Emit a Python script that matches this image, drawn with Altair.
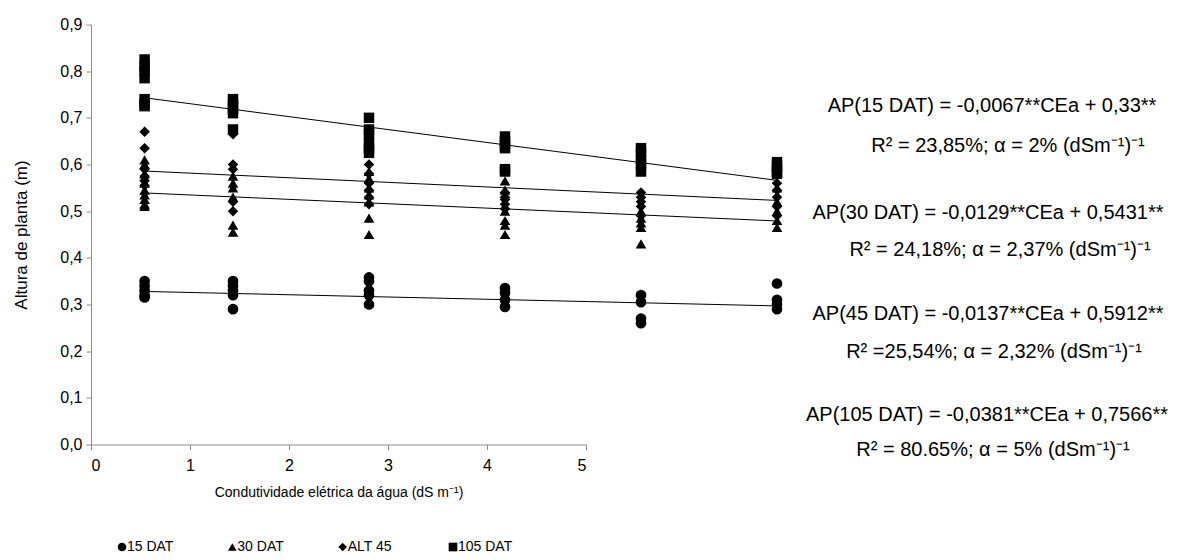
import altair as alt
import pandas as pd

# ---- data ----
series = ["15 DAT", "30 DAT", "ALT 45", "105 DAT"]
ce_levels = [0.35, 1, 2, 3, 4, 5]
ce_ticks = [0, 1, 2, 3, 4, 5]
y_ticks = [0.0, 0.1, 0.2, 0.3, 0.4, 0.5, 0.6, 0.7, 0.8, 0.9]

dat15 = [[0.35, 0.34, 0.33, 0.32, 0.315],
         [0.35, 0.34, 0.33, 0.32, 0.29],
         [0.358, 0.35, 0.33, 0.32, 0.30],
         [0.335, 0.325, 0.31, 0.295],
         [0.32, 0.305, 0.27, 0.26],
         [0.345, 0.31, 0.30, 0.29]]
dat30 = [[0.61, 0.60, 0.58, 0.56, 0.545, 0.535, 0.525, 0.515, 0.51],
         [0.575, 0.56, 0.55, 0.53, 0.47, 0.455],
         [0.585, 0.57, 0.55, 0.535, 0.52, 0.485, 0.45],
         [0.565, 0.545, 0.50, 0.48, 0.47, 0.45],
         [0.50, 0.485, 0.475, 0.465, 0.43],
         [0.55, 0.52, 0.50, 0.48, 0.465]]
alt45 = [[0.67, 0.635, 0.59, 0.575, 0.565, 0.555],
         [0.665, 0.60, 0.59, 0.52, 0.50],
         [0.60, 0.58, 0.56, 0.545, 0.53, 0.515],
         [0.54, 0.53, 0.525, 0.515, 0.505],
         [0.54, 0.53, 0.52, 0.51, 0.49],
         [0.56, 0.545, 0.53, 0.51, 0.49]]
dat105 = [[0.825, 0.81, 0.80, 0.785, 0.74, 0.73, 0.725],
          [0.74, 0.73, 0.72, 0.71, 0.675],
          [0.70, 0.675, 0.665, 0.645, 0.635, 0.625],
          [0.66, 0.65, 0.64, 0.635, 0.59, 0.585],
          [0.635, 0.625, 0.61, 0.60, 0.585],
          [0.605, 0.595, 0.585, 0.58]]

trend_ce = [0.35, 5]
trend15 = [0.328, 0.297]
trend30 = [0.539, 0.479]
trend45 = [0.586, 0.523]
trend105 = [0.743, 0.566]

equations = [
    "AP(15 DAT) = -0,0067**CEa + 0,33**",
    "R² = 23,85%; α = 2% (dSm⁻¹)⁻¹",
    "AP(30 DAT) = -0,0129**CEa + 0,5431**",
    "R² = 24,18%; α = 2,37% (dSm⁻¹)⁻¹",
    "AP(45 DAT) = -0,0137**CEa + 0,5912**",
    "R² =25,54%; α = 2,32% (dSm⁻¹)⁻¹",
    "AP(105 DAT) = -0,0381**CEa + 0,7566**",
    "R² = 80.65%; α = 5% (dSm⁻¹)⁻¹",
]

# ---- tables ----
rows = []
for name, groups in zip(series, [dat15, dat30, alt45, dat105]):
    for x, vals in zip(ce_levels, groups):
        for v in vals:
            rows.append({"ce": x, "ap": v, "serie": name})
points_df = pd.DataFrame(rows)

trows = []
for name, ys in zip(series, [trend15, trend30, trend45, trend105]):
    for x, y in zip(trend_ce, ys):
        trows.append({"ce": x, "ap": y, "serie": name})
trend_df = pd.DataFrame(trows)

ticks_df = pd.DataFrame({"ce": ce_ticks})
legend_df = pd.DataFrame({"serie": series})
one_df = pd.DataFrame({"k": [0]})

FONT = "Liberation Sans"
LEFT, TOP = 91, 24.5

shape_scale = alt.Scale(domain=series, range=["circle", "triangle-up", "diamond", "square"])
size_scale = alt.Scale(domain=series, range=[115, 110, 70, 110])

y_enc = alt.Y(
    "ap:Q",
    scale=alt.Scale(domain=[0, 0.9]),
    axis=alt.Axis(
        values=y_ticks,
        labelExpr="replace(format(datum.value, '.1f'), '.', ',')",
        title="Altura de planta (m)",
        titleFontSize=17,
        grid=False,
        tickSize=5,
        labelPadding=4,
        titlePadding=29,
    ),
)
x_data = alt.X("ce:Q", scale=alt.Scale(domain=[0, 5], range=[6, 686]), axis=None)

lines = alt.Chart(trend_df).mark_line(color="black", strokeWidth=1).encode(
    x=x_data, y=y_enc, detail="serie:N"
)

points = alt.Chart(points_df).mark_point(filled=True, opacity=1, color="black").encode(
    x=x_data,
    y=y_enc,
    shape=alt.Shape("serie:N", scale=shape_scale, legend=None),
    size=alt.Size("serie:N", scale=size_scale, legend=None),
)

axis_layer = alt.Chart(ticks_df).mark_point(opacity=0).encode(
    x=alt.X(
        "ce:Q",
        scale=alt.Scale(domain=[0, 5], range=[0, 495]),
        axis=alt.Axis(
            values=ce_ticks,
            format="d",
            title="Condutividade elétrica da água (dS m⁻¹)",
            titleFontSize=14,
            grid=False,
            tickSize=5,
            labelPadding=8,
            titlePadding=12,
        ),
    ),
    y=alt.value(0),
)

# manual legend at the bottom
leg_x = alt.X("serie:N", scale=alt.Scale(domain=series, range=[31, 362], padding=0), axis=None)
leg_y = alt.value(547 - TOP)
legend_sym = alt.Chart(legend_df).mark_point(filled=True, opacity=1, color="black", size=75).encode(
    x=leg_x, y=leg_y, shape=alt.Shape("serie:N", scale=shape_scale, legend=None)
)
legend_txt = alt.Chart(legend_df).mark_text(
    font=FONT, fontSize=14, align="left", baseline="middle", dx=5, color="black"
).encode(x=leg_x, y=leg_y, text="serie:N")

eq_cx = [992, 1008, 988, 1000, 988, 994, 987, 993]
eq_cy = [106, 146, 213, 250, 314, 352, 415, 450]
texts = []
for s, cx, cy in zip(equations, eq_cx, eq_cy):
    texts.append(
        alt.Chart(one_df).mark_text(
            text=s, font=FONT, fontSize=20, align="center", baseline="middle", color="black"
        ).encode(x=alt.value(cx - LEFT), y=alt.value(cy - TOP))
    )

chart = (
    alt.layer(lines, points, axis_layer, legend_sym, legend_txt, *texts)
    .resolve_scale(x="independent")
    .properties(
        width=1182 - LEFT - 6,
        height=420,
        autosize=alt.AutoSizeParams(type="none"),
        padding={"left": LEFT, "top": TOP, "right": 6, "bottom": 560 - TOP - 420},
    )
    .configure_view(stroke=None)
    .configure_axis(
        labelFont=FONT,
        titleFont=FONT,
        labelFontSize=16,
        titleFontSize=16,
        titleFontWeight="normal",
        labelColor="black",
        titleColor="black",
        domainColor="#8c8c8c",
        tickColor="#8c8c8c",
    )
)

chart.save("out.html", embed_options={"renderer": "svg", "actions": False})
